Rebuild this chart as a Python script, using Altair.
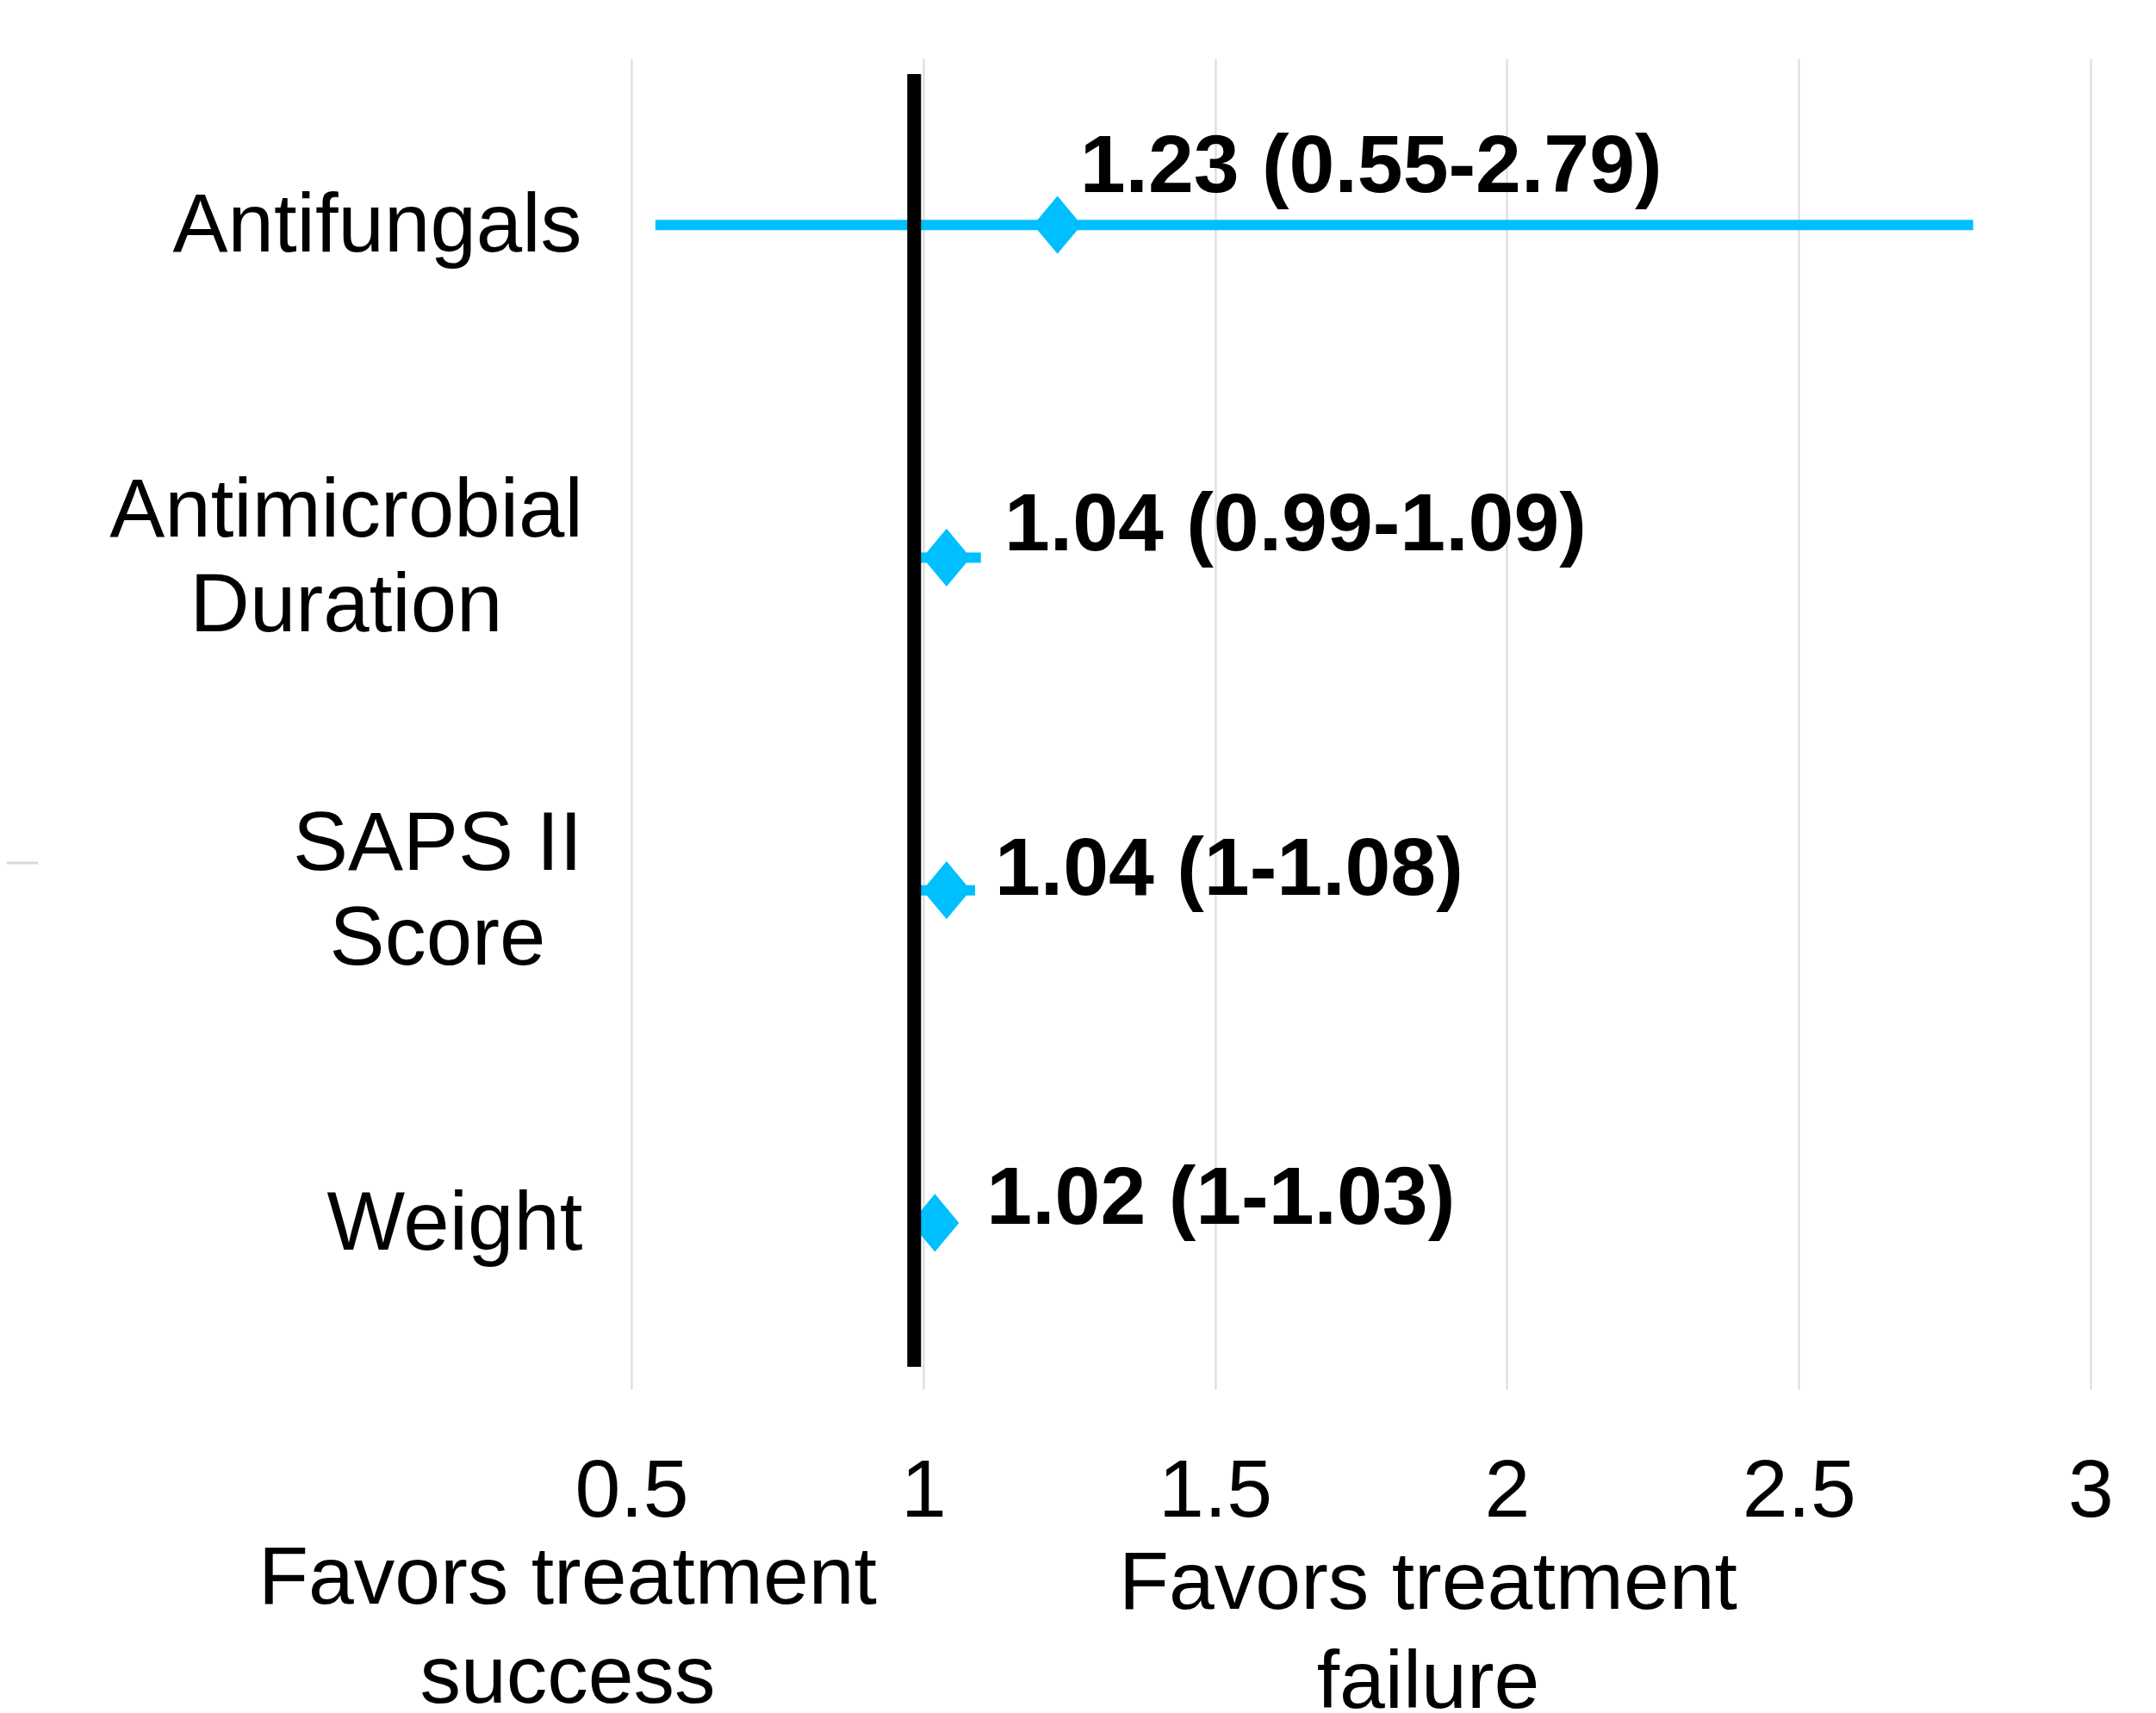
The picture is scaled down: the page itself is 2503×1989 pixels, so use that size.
import altair as alt
import pandas as pd

# ---------------- data ----------------
categories = ["Antifungals", "Antimicrobial Duration", "SAPS II Score", "Weight"]
category_lines = ["Antifungals", "Antimicrobial\nDuration", "SAPS II\nScore", "Weight"]
odds_ratio = [1.23, 1.04, 1.04, 1.02]
ci_lower = [0.55, 0.99, 1.00, 1.00]
ci_upper = [2.79, 1.09, 1.08, 1.03]
x_ticks = [0.5, 1, 1.5, 2, 2.5, 3]
x_domain = [0.5, 3]
reference_value = [1]
left_title = "Favors treatment\nsuccess"
right_title = "Favors treatment\nfailure"

labels = [f"{o:g} ({l:g}-{u:g})" for o, l, u in zip(odds_ratio, ci_lower, ci_upper)]

df = pd.DataFrame({
    "category": categories,
    "ylab": category_lines,
    "odds": odds_ratio,
    "lower": ci_lower,
    "upper": ci_upper,
    "label": labels,
})

# ---------------- style ----------------
FONT = "Liberation Sans, Arial, Helvetica, sans-serif"
BLUE = "#00BFFF"

# label offsets (style only)
value_label_offsets = {
    "Antifungals": (26, -38),
    "Antimicrobial Duration": (67, -8),
    "SAPS II Score": (56, 5),
    "Weight": (60, 1),
}
category_label_pos = {
    "Antifungals": (-295, 2),
    "Antimicrobial Duration": (-331, -53),
    "SAPS II Score": (-225, -53),
    "Weight": (-205, 2),
}

x_scale = alt.Scale(domain=x_domain, nice=False, zero=False)
x_axis = alt.Axis(
    values=x_ticks, format="~g", grid=True, gridColor="#d9d9d9", gridWidth=2,
    domain=False, ticks=False, tickSize=0, labelFontSize=95, labelColor="black",
    labelFont=FONT, labelPadding=72, labelFlush=False, title=None,
)
Y = alt.Y("category:N", sort=categories,
          scale=alt.Scale(domain=categories, paddingInner=0, paddingOuter=0),
          axis=None)

base = alt.Chart(df)

bars = base.mark_rule(strokeWidth=12, strokeCap="square", color=BLUE).encode(
    x=alt.X("lower:Q", scale=x_scale, axis=x_axis),
    x2="upper:Q",
    y=Y,
)

diamonds = base.mark_point(
    shape="M0,-1.2L1,0L0,1.2L-1,0Z", filled=True, size=3136, opacity=1,
    color=BLUE, strokeWidth=0,
).encode(x=alt.X("odds:Q", scale=x_scale), y=Y)

ref = alt.Chart(pd.DataFrame({"ref": reference_value})).mark_rule(
    color="black", strokeWidth=16, xOffset=-10.5
).encode(
    x=alt.X("ref:Q", scale=x_scale),
    y=alt.value(18),
    y2=alt.value(1519),
)

layers = [bars, diamonds, ref]

for cat in categories:
    dx, dy = value_label_offsets[cat]
    layers.append(
        base.transform_filter(alt.datum.category == cat).mark_text(
            align="left", baseline="alphabetic", dx=dx, dy=dy,
            fontSize=95, fontWeight="bold", font=FONT, color="black",
        ).encode(x=alt.X("odds:Q", scale=x_scale), y=Y, text="label:N")
    )
    cx, cdy = category_label_pos[cat]
    layers.append(
        base.transform_filter(alt.datum.category == cat).mark_text(
            align="center", baseline="middle", dy=cdy, dx=cx,
            fontSize=96, lineHeight=110, lineBreak="\n", font=FONT, color="black",
        ).encode(x=alt.value(0), y=Y, text="ylab:N")
    )

titles_df = pd.DataFrame({"t": [left_title, right_title], "side": ["left", "right"]})
left_t = alt.Chart(titles_df).transform_filter(alt.datum.side == "left").mark_text(
    align="center", baseline="alphabetic", fontSize=95, lineHeight=115,
    lineBreak="\n", font=FONT, color="black",
).encode(x=alt.value(-74), y=alt.value(1794), text="t:N")
right_t = alt.Chart(titles_df).transform_filter(alt.datum.side == "right").mark_text(
    align="center", baseline="alphabetic", fontSize=95, lineHeight=115,
    lineBreak="\n", font=FONT, color="black",
).encode(x=alt.value(925), y=alt.value(1800), text="t:N")
layers += [left_t, right_t]

stub = alt.Chart(pd.DataFrame({"a": [0]})).mark_rule(
    color="#d9d9d9", strokeWidth=3
).encode(x=alt.value(-725), x2=alt.value(-689), y=alt.value(934))
layers.append(stub)

chart = alt.layer(*layers).properties(
    width=1694,
    height=1545,
    autosize=alt.AutoSizeParams(type="none"),
    padding={"left": 725, "top": 60, "right": 60, "bottom": 380},
    background="white",
).configure_view(stroke=None)

chart.save("out.html", embed_options={"renderer": "svg", "actions": False})
